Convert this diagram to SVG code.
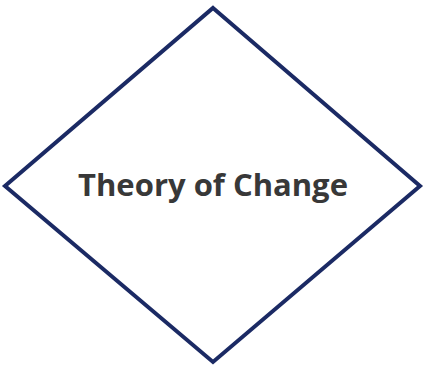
<svg xmlns="http://www.w3.org/2000/svg" width="424" height="368" viewBox="0 0 424 368">
<style>
.shape{fill:#ffffff;stroke:#1b2a64;stroke-width:4;stroke-linejoin:miter}
.label{font-family:"Open Sans","Liberation Sans",sans-serif;font-weight:bold;font-size:31px;fill:#383838;text-anchor:middle}
</style>
<rect width="424" height="368" fill="#ffffff"/>
<g id="connectors"/>
<g id="node-theory">
<polygon class="shape" points="213,8 420,186 213,362 5,186"/>
<text class="label" x="213" y="196">Theory of Change</text>
</g>
</svg>
